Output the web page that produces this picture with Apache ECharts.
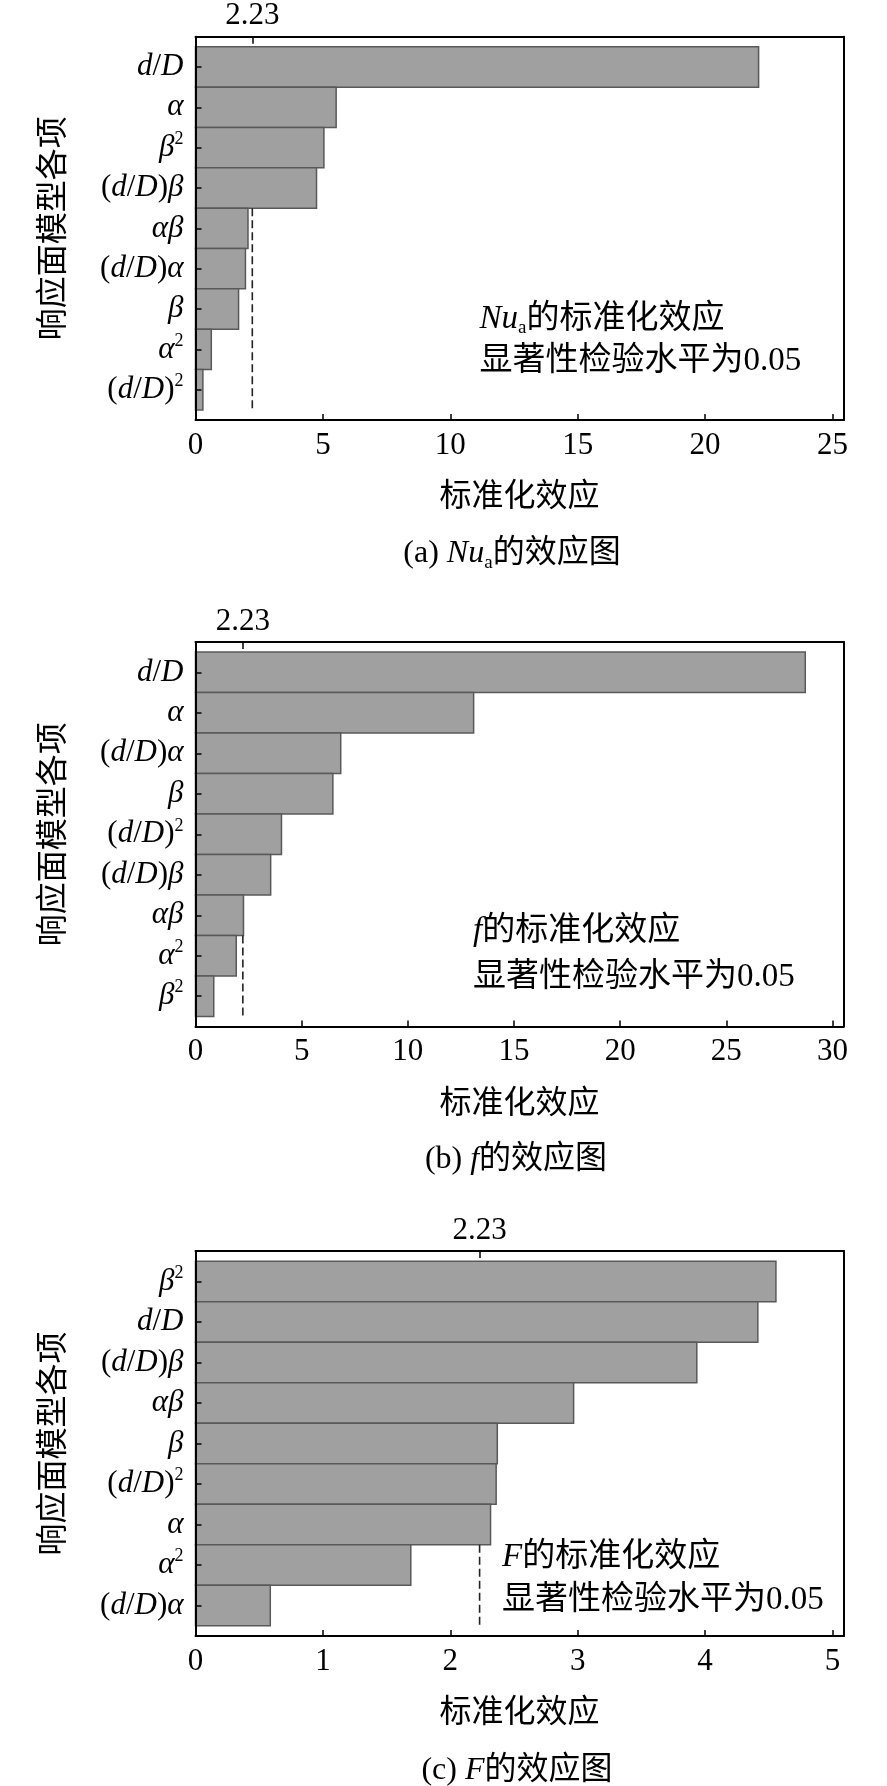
<!DOCTYPE html>
<html>
<head>
<meta charset="utf-8">
<script src="https://cdn.jsdelivr.net/npm/echarts@6/dist/echarts.min.js"></script>
<style>
  html, body { margin: 0; padding: 0; background: #fff; }
  #main { width: 887px; height: 1786px; }
</style>
</head>
<body>
<div id="main"></div>
<script>
// 标准化效应阈值 (显著性检验水平 0.05)
const THRESHOLD = 2.23;

// (a) Nu_a
const catsA = ['d/D', 'α', 'β²', '(d/D)β', 'αβ', '(d/D)α', 'β', 'α²', '(d/D)²'];
const valsA = [22.1, 5.52, 5.04, 4.75, 2.06, 1.96, 1.69, 0.62, 0.29];
const ticksA = [0, 5, 10, 15, 20, 25];
const xMaxA = 25.44;

// (b) f
const catsB = ['d/D', 'α', '(d/D)α', 'β', '(d/D)²', '(d/D)β', 'αβ', 'α²', 'β²'];
const valsB = [28.72, 13.1, 6.84, 6.47, 4.05, 3.54, 2.26, 1.92, 0.86];
const ticksB = [0, 5, 10, 15, 20, 25, 30];
const xMaxB = 30.53;

// (c) F
const catsC = ['β²', 'd/D', '(d/D)β', 'αβ', 'β', '(d/D)²', 'α', 'α²', '(d/D)α'];
const valsC = [4.556, 4.414, 3.935, 2.968, 2.369, 2.36, 2.316, 1.69, 0.587];
const ticksC = [0, 1, 2, 3, 4, 5];
const xMaxC = 5.088;

const FONT = "'Liberation Serif', 'Noto Sans CJK SC', serif";
const BAR_FILL = '#a0a0a0';
const BAR_EDGE = '#595959';

// 每个子图的位置
const panels = [
  { cats: catsA, vals: valsA, ticks: ticksA, xMax: xMaxA, top: 36.7, height: 383.3,
    note: '{it|Nu}{sub|a}{n|的标准化效应}', noteX: 479.5, noteY: [319, 361.5],
    caption: '{n|(a) }{it|Nu}{sub|a}{n|的效应图}', capX: 512, capY: 554 },
  { cats: catsB, vals: valsB, ticks: ticksB, xMax: xMaxB, top: 642, height: 384.6,
    note: '{it|f}{n|的标准化效应}', noteX: 473, noteY: [931, 977],
    caption: '{n|(b) }{it|f}{n|的效应图}', capX: 516, capY: 1159.5 },
  { cats: catsC, vals: valsC, ticks: ticksC, xMax: xMaxC, top: 1251, height: 385,
    note: '{it|F}{n|的标准化效应}', noteX: 502, noteY: [1557, 1600],
    caption: '{n|(c) }{it|F}{n|的效应图}', capX: 517, capY: 1770.5 }
];

const LEFT = 195.5;
const RIGHT = 43.3;

function termRich(s) {
  let out = '';
  for (const ch of s) {
    if (ch === '²') out += '{sup|2}';
    else if ('dDαβ'.includes(ch)) out += '{it|' + ch + '}';
    else out += '{n|' + ch + '}';
  }
  return out;
}

const termStyles = {
  n: { fontFamily: FONT, fontSize: 31, color: '#000', lineHeight: 35 },
  it: { fontFamily: FONT, fontSize: 31, fontStyle: 'italic', color: '#000', lineHeight: 35 },
  sup: { fontFamily: FONT, fontSize: 18, color: '#000', verticalAlign: 'top', lineHeight: 23 }
};
const noteStyles = {
  n: { fontFamily: FONT, fontSize: 33, color: '#000', lineHeight: 38 },
  it: { fontFamily: FONT, fontSize: 33, fontStyle: 'italic', color: '#000', lineHeight: 38 },
  sub: { fontFamily: FONT, fontSize: 19, color: '#000', verticalAlign: 'bottom', lineHeight: 24 }
};
const capStyles = {
  n: { fontFamily: FONT, fontSize: 32, color: '#000', lineHeight: 38 },
  it: { fontFamily: FONT, fontSize: 32, fontStyle: 'italic', color: '#000', lineHeight: 38 },
  sub: { fontFamily: FONT, fontSize: 19, color: '#000', verticalAlign: 'bottom', lineHeight: 24 }
};

const axisLine = { show: true, onZero: false, lineStyle: { color: '#000', width: 2 } };
const tickLine = { color: '#000', width: 1.5 };

const grid = [], xAxis = [], yAxis = [], series = [], graphic = [];

panels.forEach((p, k) => {
  const idx = p.cats.map((c, i) => i);
  grid.push({ left: LEFT, right: RIGHT, top: p.top, height: p.height });

  xAxis.push({
    type: 'value', gridIndex: k, position: 'bottom', min: 0, max: p.xMax, z: 5,
    axisLine: axisLine,
    axisTick: { show: true, inside: true, length: 6, customValues: p.ticks, lineStyle: tickLine },
    axisLabel: { customValues: p.ticks, margin: 10, color: '#000', fontFamily: FONT, fontSize: 31 },
    splitLine: { show: false },
    name: '标准化效应', nameLocation: 'middle', nameGap: 62,
    nameTextStyle: { color: '#000', fontFamily: FONT, fontSize: 32 }
  });
  xAxis.push({
    type: 'value', gridIndex: k, position: 'top', min: 0, max: p.xMax, z: 5,
    axisLine: axisLine,
    axisTick: { show: true, inside: true, length: 7, customValues: [THRESHOLD], lineStyle: tickLine },
    axisLabel: { customValues: [THRESHOLD], formatter: v => String(v), margin: 5,
      color: '#000', fontFamily: FONT, fontSize: 31 },
    splitLine: { show: false }
  });

  yAxis.push({
    type: 'value', gridIndex: k, position: 'left', min: -0.75, max: 8.75, inverse: true, z: 5,
    axisLine: axisLine,
    axisTick: { show: true, inside: true, length: 6, customValues: idx, lineStyle: tickLine },
    axisLabel: { customValues: idx, formatter: v => termRich(p.cats[v]), margin: 12, rich: termStyles },
    splitLine: { show: false },
    name: '响应面模型各项', nameLocation: 'middle', nameGap: 125, nameRotate: 90,
    nameTextStyle: { color: '#000', fontFamily: FONT, fontSize: 32 }
  });
  yAxis.push({
    type: 'value', gridIndex: k, position: 'right', min: -0.75, max: 8.75, inverse: true, z: 5,
    axisLine: axisLine, axisTick: { show: false }, axisLabel: { show: false },
    splitLine: { show: false }
  });

  series.push({
    type: 'custom', xAxisIndex: 2 * k, yAxisIndex: 2 * k,
    data: p.vals.map((v, i) => [v, i]),
    encode: { x: 0, y: 1 },
    renderItem: (params, api) => {
      const v = api.value(0), i = api.value(1);
      const a = api.coord([0, i]);
      const b = api.coord([v, i]);
      const h = api.size([0, 1])[1];
      return {
        type: 'rect',
        shape: { x: a[0], y: a[1] - h / 2, width: b[0] - a[0], height: h },
        style: { fill: BAR_FILL, stroke: BAR_EDGE, lineWidth: 1.5 }
      };
    },
    silent: true
  });

  // 阈值虚线: 从最后一个超过阈值的条形下沿到最后一个条形下沿
  let last = -1;
  p.vals.forEach((v, i) => { if (v > THRESHOLD) last = i; });
  series.push({
    type: 'line', xAxisIndex: 2 * k, yAxisIndex: 2 * k, silent: true,
    symbol: 'none', z: 4,
    lineStyle: { color: '#222', width: 1.6, type: [8, 4] },
    data: [[THRESHOLD, last + 0.5], [THRESHOLD, p.vals.length - 0.5]]
  });

  graphic.push({
    type: 'text', x: p.noteX, y: p.noteY[0],
    style: { text: p.note, rich: noteStyles, verticalAlign: 'middle', align: 'left' }
  });
  graphic.push({
    type: 'text', x: p.noteX, y: p.noteY[1],
    style: { text: '{n|显著性检验水平为0.05}', rich: noteStyles, verticalAlign: 'middle', align: 'left' }
  });
  graphic.push({
    type: 'text', x: p.capX, y: p.capY,
    style: { text: p.caption, rich: capStyles, verticalAlign: 'middle', align: 'center' }
  });
});

const chart = echarts.init(document.getElementById('main'));
chart.setOption({
  backgroundColor: '#fff',
  animation: false,
  grid: grid,
  xAxis: xAxis,
  yAxis: yAxis,
  series: series,
  graphic: graphic
});
</script>
</body>
</html>
